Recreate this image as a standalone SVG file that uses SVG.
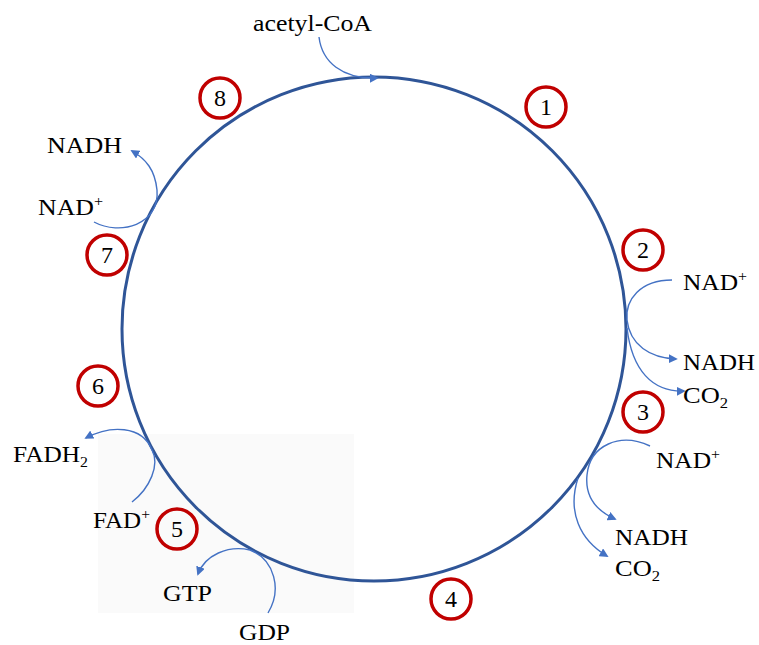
<svg xmlns="http://www.w3.org/2000/svg" width="759" height="645" viewBox="0 0 759 645">
<style>
.lbl{font-family:"Liberation Serif","Times New Roman",serif;font-size:24px;fill:#000}
.num{font-family:"Liberation Serif","Times New Roman",serif;font-size:24px;fill:#000;text-anchor:middle}
.step{fill:none;stroke:#C00000;stroke-width:3.5}
.arr{fill:none;stroke:#4472C4;stroke-width:1.4;marker-end:url(#ah)}
</style>
<defs>
<marker id="ah" viewBox="0 0 10 10" refX="8" refY="5" markerWidth="9" markerHeight="9" markerUnits="userSpaceOnUse" orient="auto">
<path d="M0,0 L10,5 L0,10 Z" fill="#4472C4"/>
</marker>
</defs>
<rect x="98" y="434" width="256" height="179" fill="#FAFAFA"/>
<g id="cycle"><circle cx="374" cy="329" r="252" fill="none" stroke="#2F5597" stroke-width="3"/></g>
<g id="connectors">
<path class="arr" d="M319,37 C322,62 342,79 377,78"/>
<path class="arr" d="M94,222 C120,236 160,225 157,190 C155,170 146,159 132,151"/>
<path class="arr" d="M672,280 C640,280 625,300 627,320 C630,345 650,358 676,359"/>
<path class="arr" d="M627,328 C632,370 652,392 684,391"/>
<path class="arr" d="M650,446 C620,432 590,445 587,475 C585,495 595,510 615,519"/>
<path class="arr" d="M578,478 C567,512 580,540 607,556"/>
<path class="arr" d="M132,502 C150,488 160,465 152,450 C142,425 110,425 86,438"/>
<path class="arr" d="M268,613 C282,590 275,560 250,550 C228,545 205,555 198,574"/>
</g>
<g id="n1"><circle class="step" cx="546" cy="107" r="20"/><text class="num" x="546" y="115">1</text></g>
<g id="n2"><circle class="step" cx="643" cy="250" r="20"/><text class="num" x="643" y="258">2</text></g>
<g id="n3"><circle class="step" cx="643" cy="412" r="20"/><text class="num" x="643" y="420">3</text></g>
<g id="n4"><circle class="step" cx="451" cy="599" r="20"/><text class="num" x="451" y="607">4</text></g>
<g id="n5"><circle class="step" cx="177" cy="529" r="20"/><text class="num" x="177" y="537">5</text></g>
<g id="n6"><circle class="step" cx="98" cy="386" r="20"/><text class="num" x="98" y="394">6</text></g>
<g id="n7"><circle class="step" cx="107" cy="255" r="20"/><text class="num" x="107" y="263">7</text></g>
<g id="n8"><circle class="step" cx="220" cy="98" r="20"/><text class="num" x="220" y="106">8</text></g>
<g id="t-acetyl"><text class="lbl" x="253" y="31" textLength="119" lengthAdjust="spacingAndGlyphs">acetyl-CoA</text></g>
<g id="t-nadh7"><text class="lbl" x="47" y="153" textLength="75" lengthAdjust="spacingAndGlyphs">NADH</text></g>
<g id="t-nad7"><text class="lbl" x="38" y="215" textLength="65" lengthAdjust="spacingAndGlyphs">NAD<tspan font-size="15" dy="-9">+</tspan></text></g>
<g id="t-nad2"><text class="lbl" x="683" y="290" textLength="64" lengthAdjust="spacingAndGlyphs">NAD<tspan font-size="15" dy="-9">+</tspan></text></g>
<g id="t-nadh2"><text class="lbl" x="683" y="370" textLength="72" lengthAdjust="spacingAndGlyphs">NADH</text></g>
<g id="t-co2a"><text class="lbl" x="683" y="403" textLength="45" lengthAdjust="spacingAndGlyphs">CO<tspan font-size="15" dy="5">2</tspan></text></g>
<g id="t-nad3"><text class="lbl" x="656" y="468" textLength="64" lengthAdjust="spacingAndGlyphs">NAD<tspan font-size="15" dy="-9">+</tspan></text></g>
<g id="t-nadh3"><text class="lbl" x="615" y="545" textLength="73" lengthAdjust="spacingAndGlyphs">NADH</text></g>
<g id="t-co2b"><text class="lbl" x="615" y="576" textLength="45" lengthAdjust="spacingAndGlyphs">CO<tspan font-size="15" dy="5">2</tspan></text></g>
<g id="t-fadh2"><text class="lbl" x="13" y="462" textLength="75" lengthAdjust="spacingAndGlyphs">FADH<tspan font-size="15" dy="5">2</tspan></text></g>
<g id="t-fad"><text class="lbl" x="93" y="528" textLength="57" lengthAdjust="spacingAndGlyphs">FAD<tspan font-size="15" dy="-9">+</tspan></text></g>
<g id="t-gtp"><text class="lbl" x="163" y="601" textLength="49" lengthAdjust="spacingAndGlyphs">GTP</text></g>
<g id="t-gdp"><text class="lbl" x="239" y="640" textLength="51" lengthAdjust="spacingAndGlyphs">GDP</text></g>
</svg>
